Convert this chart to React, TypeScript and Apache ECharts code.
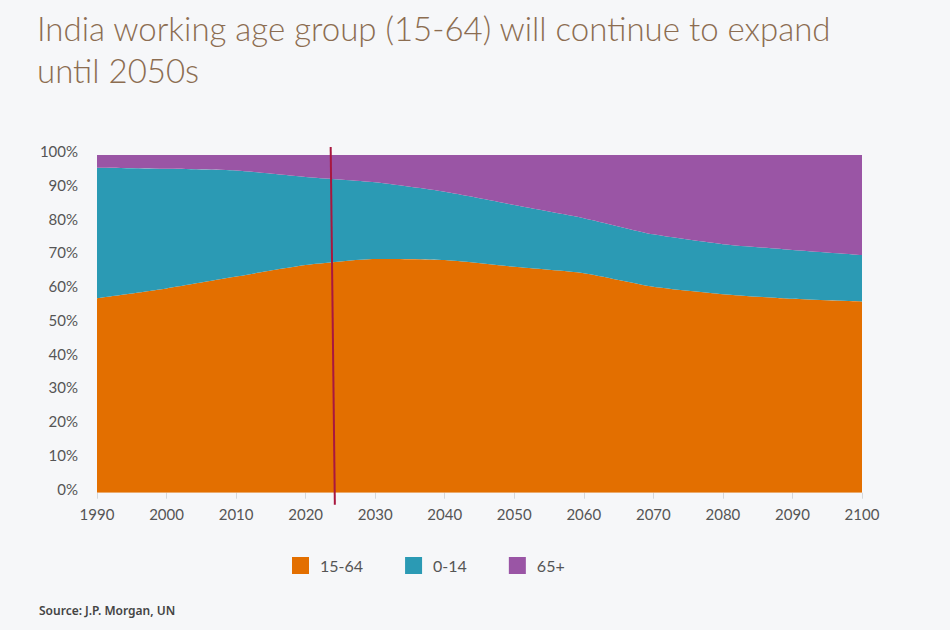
import React, { useEffect, useRef } from "react";
import * as echarts from "echarts";

const years = ["1990", "2000", "2010", "2020", "2030", "2040", "2050", "2060", "2070", "2080", "2090", "2100"];
const working = [57.6, 60.5, 64.0, 67.4, 69.2, 68.9, 66.9, 65.0, 61.0, 58.8, 57.4, 56.6];
const children = [38.6, 35.4, 31.4, 26.1, 22.7, 20.2, 18.3, 16.3, 15.5, 14.8, 14.5, 13.8];
const elderly = [3.8, 4.1, 4.6, 6.5, 8.1, 10.9, 14.8, 18.7, 23.5, 26.4, 28.1, 29.6];
const yTicks = [0, 10, 20, 30, 40, 50, 60, 70, 80, 90, 100];
const seriesNames = ["15-64", "0-14", "65+"];
const markerYearTop = 2023.6;
const markerYearBottom = 2024.2;

const title = "India working age group (15-64) will continue to expand\nuntil 2050s";
const source = "Source: J.P. Morgan, UN";

const COLORS = ["#E36F00", "#2B9AB4", "#9A55A5"];
const BG = "#F6F7F9";

export default function App() {
  const ref = useRef<HTMLDivElement>(null);
  useEffect(() => {
    document.body.style.margin = "0";
    if (!ref.current) return;
    const chart = echarts.init(ref.current, null, { renderer: "svg" });
    const mk = (name: string, data: number[], color: string) => ({
      name,
      type: "line",
      stack: "total",
      data,
      symbol: "none",
      smooth: 0.2,
      lineStyle: { width: 0, color },
      itemStyle: { color },
      areaStyle: { color, opacity: 1 },
    });
    const sourceText = {
      type: "text",
      left: 39,
      top: 604,
      style: { text: source, fontFamily: "Noto Sans", fontSize: 12, fontWeight: 600, fill: "#444" },
    };
    chart.setOption({
      animation: false,
      backgroundColor: BG,
      textStyle: { fontFamily: "Lato" },
      title: {
        text: title,
        left: 37,
        top: 7,
        padding: 0,
        textStyle: {
          fontFamily: "Lato",
          fontWeight: 300,
          fontSize: 33,
          lineHeight: 42,
          color: "#8C6D51",
        },
      },
      grid: { left: 97, right: 88, top: 155, bottom: 137.3 },
      legend: {
        data: seriesNames,
        left: 292,
        top: 557,
        padding: 0,
        itemWidth: 17,
        itemHeight: 17,
        itemGap: 42,
        icon: "rect",
        textStyle: { fontFamily: "Lato", fontSize: 16, color: "#555", padding: [0, 0, 0, 6] },
      },
      xAxis: {
        type: "category",
        data: years,
        boundaryGap: false,
        axisLine: { show: false },
        axisTick: { show: true, length: 6, lineStyle: { color: "#D5D7DA" } },
        axisLabel: { margin: 14, fontSize: 15, color: "#555", fontFamily: "Lato" },
        splitLine: { show: false },
      },
      yAxis: {
        type: "value",
        min: 0,
        max: 100,
        interval: 10,
        axisLine: { show: false },
        axisTick: { show: false },
        splitLine: { show: false },
        axisLabel: {
          margin: 19,
          fontSize: 15,
          color: "#555",
          fontFamily: "Lato",
          formatter: (v: number) => (yTicks.includes(v) ? v + "%" : ""),
          verticalAlign: "bottom",
          lineHeight: 8,
        },
      },
      series: [
        mk(seriesNames[0], working, COLORS[0]),
        mk(seriesNames[1], children, COLORS[1]),
        mk(seriesNames[2], elderly, COLORS[2]),
      ],
      graphic: [sourceText],
    });
    const toX = (yr: number) => {
      const i = Math.floor((yr - 1990) / 10);
      const f = (yr - 1990) / 10 - i;
      const a = chart.convertToPixel({ gridIndex: 0 }, [years[i], 0]) as number[];
      const b = chart.convertToPixel({ gridIndex: 0 }, [years[i + 1], 0]) as number[];
      return a[0] + (b[0] - a[0]) * f;
    };
    const yTop = (chart.convertToPixel({ gridIndex: 0 }, [years[0], 100]) as number[])[1];
    const yBot = (chart.convertToPixel({ gridIndex: 0 }, [years[0], 0]) as number[])[1];
    chart.setOption({
      graphic: [
        sourceText,
        {
          type: "line",
          shape: { x1: toX(markerYearTop), y1: yTop - 8, x2: toX(markerYearBottom), y2: yBot + 12 },
          style: { stroke: "#A8173F", lineWidth: 2 },
          z: 100,
        },
      ],
    });
    return () => chart.dispose();
  }, []);
  return (
    <div
      ref={ref}
      style={{ position: "absolute", left: 0, top: 0, width: 950, height: 630, background: BG }}
    />
  );
}
